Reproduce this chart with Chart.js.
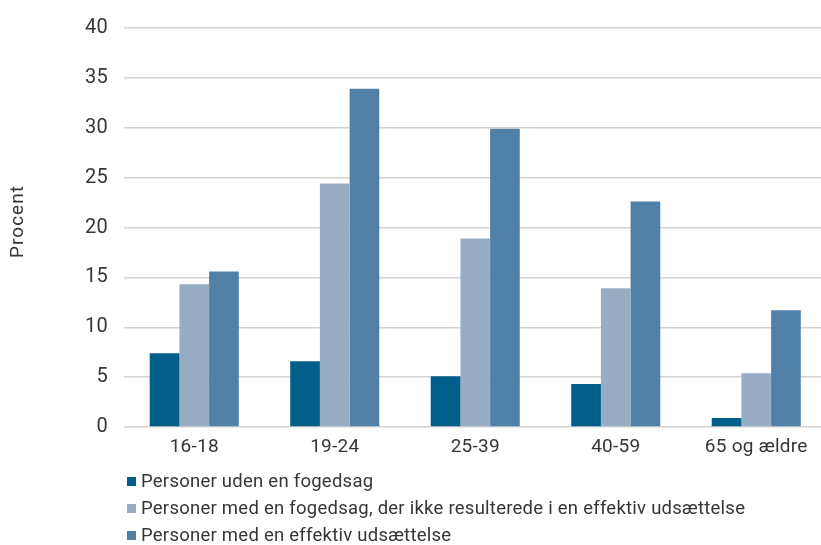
<!DOCTYPE html>
<html>
<head>
<meta charset="utf-8">
<script src="https://cdn.jsdelivr.net/npm/chart.js@4/dist/chart.umd.min.js"></script>
<style>
  html, body { margin: 0; padding: 0; background: #ffffff; overflow: hidden; }
  #wrap { position: relative; width: 830px; height: 545px; }
</style>
</head>
<body>
<div id="wrap"><canvas id="chart"></canvas></div>
<script>
// Age groups along the x axis
const ageGroups = ['16-18', '19-24', '25-39', '40-59', '65 og ældre'];

// Share (procent) in each age group
const udenFogedsag = [7.4, 6.6, 5.1, 4.3, 0.9];
const fogedsagUdenUdsaettelse = [14.3, 24.4, 18.9, 13.9, 5.4];
const effektivUdsaettelse = [15.6, 33.9, 29.9, 22.6, 11.7];

// Series names
const seriesNames = [
  'Personer uden en fogedsag',
  'Personer med en fogedsag, der ikke resulterede i en effektiv udsættelse',
  'Personer med en effektiv udsættelse'
];

// Y axis range and title
const yMin = 0;
const yMax = 40;
const yStep = 5;
const yTitle = 'Procent';

const colors = ['#005e89', '#98adc4', '#5080a6'];
const textColor = '#363636';
const fontFamily = 'Roboto, "Liberation Sans", sans-serif';

// Slightly wider letter spacing for all chart text
const textSpacing = {
  id: 'textSpacing',
  beforeDraw(chart) { chart.ctx.letterSpacing = '0.25px'; }
};

// Rotated y title and a vertical legend below the plot, one series per row
const annotations = {
  id: 'annotations',
  afterDraw(chart) {
    const ctx = chart.ctx;
    const area = chart.chartArea;

    ctx.save();
    ctx.letterSpacing = '1px';
    ctx.font = '19px ' + fontFamily;
    ctx.fillStyle = textColor;
    ctx.textAlign = 'center';
    ctx.textBaseline = 'middle';
    ctx.translate(18, (area.top + area.bottom) / 2 - 6);
    ctx.rotate(-Math.PI / 2);
    ctx.fillText(yTitle, 0, 0);
    ctx.restore();

    ctx.save();
    ctx.letterSpacing = '0.25px';
    ctx.font = '18.5px ' + fontFamily;
    ctx.textBaseline = 'alphabetic';
    ctx.textAlign = 'left';
    chart.data.datasets.forEach((ds, i) => {
      const baseline = area.bottom + 60 + i * 27;
      ctx.fillStyle = ds.backgroundColor;
      ctx.fillRect(area.left + 3, baseline - 10, 9, 9);
      ctx.fillStyle = textColor;
      ctx.fillText(ds.label, area.left + 17, baseline);
    });
    ctx.restore();
  }
};

new Chart(document.getElementById('chart'), {
  type: 'bar',
  data: {
    labels: ageGroups,
    datasets: [
      { label: seriesNames[0], data: udenFogedsag, backgroundColor: colors[0] },
      { label: seriesNames[1], data: fogedsagUdenUdsaettelse, backgroundColor: colors[1] },
      { label: seriesNames[2], data: effektivUdsaettelse, backgroundColor: colors[2] }
    ]
  },
  options: {
    responsive: true,
    maintainAspectRatio: false,
    animation: false,
    layout: { padding: { top: 28, right: 3.5, left: 0, bottom: 0 } },
    datasets: {
      bar: { categoryPercentage: 0.634, barPercentage: 1.0, borderWidth: 0 }
    },
    plugins: {
      legend: { display: false },
      tooltip: { enabled: false }
    },
    scales: {
      x: {
        grid: { display: false, drawTicks: false },
        border: { display: false },
        ticks: {
          color: textColor,
          padding: 9,
          maxRotation: 0,
          font: { family: fontFamily, size: 19 }
        },
        afterFit(scale) { scale.height = 118; }
      },
      y: {
        min: yMin,
        max: yMax,
        grid: { color: '#d3d3d3', lineWidth: 1.5, drawTicks: false },
        border: { display: false },
        ticks: {
          stepSize: yStep,
          color: textColor,
          padding: 16,
          font: { family: fontFamily, size: 20 }
        },
        afterFit(scale) { scale.width = 124; }
      }
    }
  },
  plugins: [textSpacing, annotations]
});
</script>
</body>
</html>
